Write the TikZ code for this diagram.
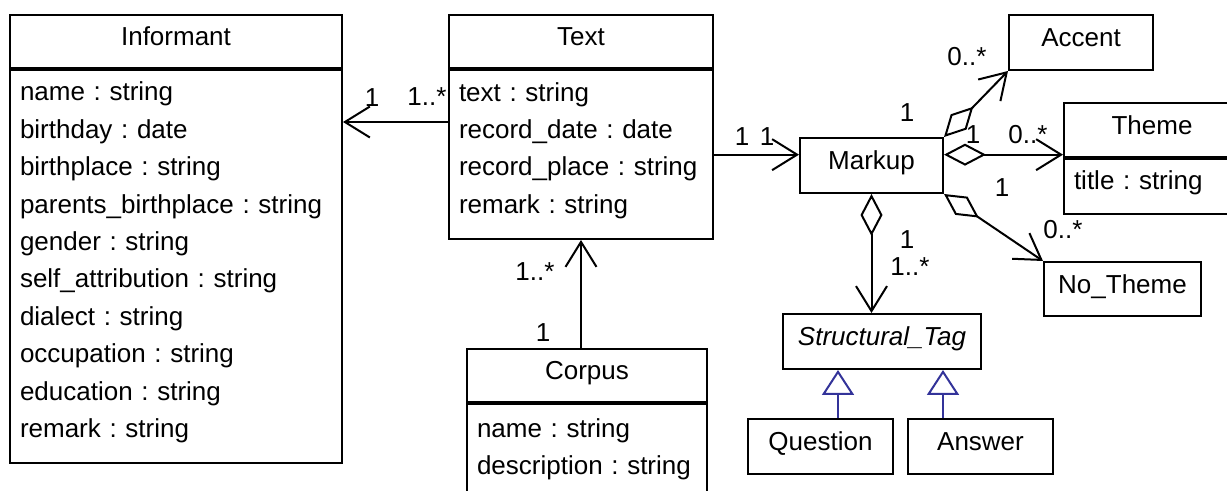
\documentclass[tikz,border=0pt]{standalone}
\usepackage{fontspec}
\setmainfont{Liberation Sans}
\usepackage{tikz}
\usetikzlibrary{arrows.meta,positioning,calc}
\definecolor{genblue}{RGB}{51,51,153}
\frenchspacing

\begin{document}
\begin{tikzpicture}[x=0.5pt, y=-0.5pt, line width=1pt, font=\fontsize{13}{18.7}\selectfont, head/.style={draw, minimum height=26.5pt, inner sep=0pt, text height=9.5pt, text depth=5pt}, attr/.style={draw, align=left, inner xsep=5pt, inner ysep=0pt, text height=5.5pt}, cls/.style={draw, minimum height=27.5pt, inner sep=0pt, text height=9.5pt, text depth=5pt}, divider/.style={line width=2pt}, assoc/.style={-{Straight Barb[length=12.5pt, width=15.5pt]}}, aggr/.style={{Diamond[open, length=21pt, width=11pt]}-{Straight Barb[length=12.5pt, width=15.5pt]}}, gen/.style={genblue, -{Triangle[open, length=12.5pt, width=16pt]}}, mult/.style={inner sep=0pt}]
\useasboundingbox (0,0) rectangle (1227,491);
\node[head, minimum width=166pt] (infh) at (176,41.5) {Informant};
\node[attr, below=0pt of infh, text width=156pt, minimum height=196.5pt] (infb) {name : string\\birthday : date\\birthplace : string\\parents\_birthplace : string\\gender : string\\self\_attribution : string\\dialect : string\\occupation : string\\education : string\\remark : string};
\node[head, minimum width=132pt] (txth) at (581,41.5) {Text};
\node[attr, below=0pt of txth, text width=122pt, minimum height=84.5pt] (txtb) {text : string\\record\_date : date\\record\_place : string\\remark : string};
\node[head, minimum width=120pt] (corh) at (587,375.5) {Corpus};
\node[attr, below=0pt of corh, text width=110pt, minimum height=49pt] (corb) {name : string\\description : string};
\node[cls, minimum width=71.5pt] (mk) at (871.5,165.5) {Markup};
\node[cls, minimum width=72pt] (acc) at (1081,42.5) {Accent};
\node[head, minimum width=88pt, minimum height=27pt] (thh) at (1152,130) {Theme};
\node[attr, below=0pt of thh, text width=78pt, minimum height=27.5pt] (thb) {title : string};
\node[cls, minimum width=78.5pt, minimum height=27pt] (nth) at (1122.5,289) {No\_Theme};
\node[cls, minimum width=99pt] (st) at (882,341.5) {\textit{Structural\_Tag}};
\node[cls, minimum width=72.5pt] (qu) at (820.5,446.5) {Question};
\node[cls, minimum width=72.5pt, right=6.5pt of qu] (ans) {Answer};
\draw[divider] (infh.south west) -- (infh.south east); \draw[divider] (txth.south west) -- (txth.south east); \draw[divider] (corh.south west) -- (corh.south east); \draw[divider] (thh.south west) -- (thh.south east);
\coordinate (tin) at ($(txtb.north west)!0.31!(txtb.south west)$);
\coordinate (mkin) at ($(mk.north west)!0.31!(mk.south west)$);
\coordinate (gq) at ([xshift=-22pt]st.south);
\coordinate (ga) at ([xshift=30.5pt]st.south);
\draw[assoc] (tin) -- (tin -| infb.east); \draw[assoc] (mkin -| txtb.east) -- (mkin); \draw[assoc] (txtb.south |- corh.north) -- (txtb.south);
\draw[aggr] (mk.north east) -- (acc.south west); \draw[aggr] (mkin -| mk.east) -- (mkin -| thh.west); \draw[aggr] (mk.south east) -- (nth.north west); \draw[aggr] (mk.south) -- (mk.south |- st.north);
\draw[gen] (gq |- qu.north) -- (gq); \draw[gen] (ga |- ans.north) -- (ga);
\node[mult] (m1) at (372,98) {1};
\node[mult] (m2) at (427,97) {1..*};
\node[mult] (m3) at (742,137) {1};
\node[mult] (m4) at (767,137) {1};
\node[mult] (m5) at (967,57) {0..*};
\node[mult] (m6) at (907,113) {1};
\node[mult] (m7) at (973,135) {1};
\node[mult] (m8) at (1028,135) {0..*};
\node[mult] (m9) at (1002,188) {1};
\node[mult] (m10) at (1063,230) {0..*};
\node[mult] (m11) at (907,240) {1};
\node[mult] (m12) at (910,267) {1..*};
\node[mult] (m13) at (535,272) {1..*};
\node[mult] (m14) at (543,333) {1};
\end{tikzpicture}
\end{document}
